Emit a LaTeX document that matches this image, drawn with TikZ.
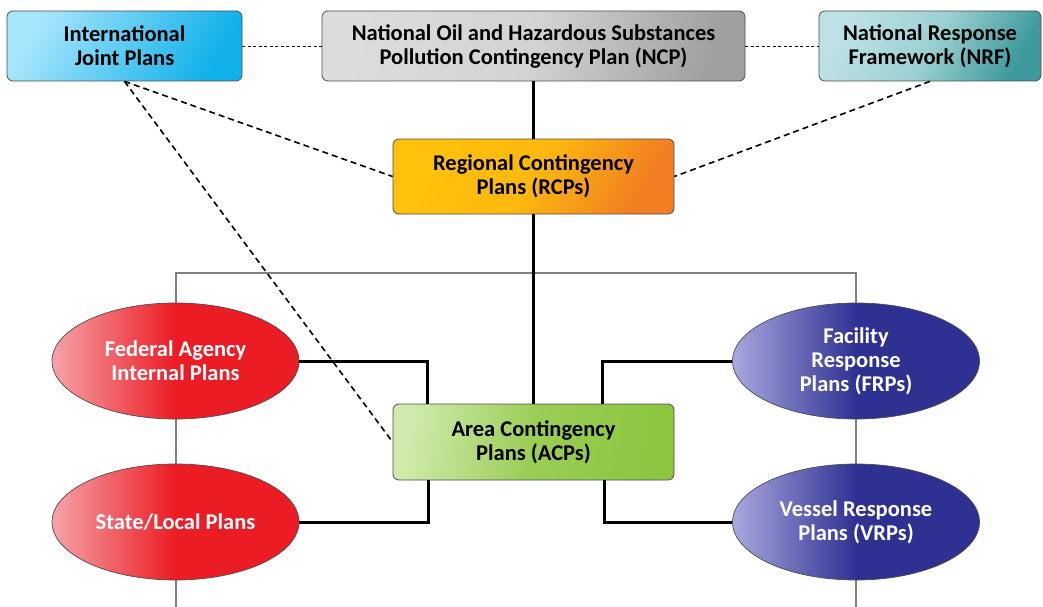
\documentclass[tikz,border=0pt]{standalone}
\usepackage{fontspec}
\setmainfont{Carlito}
\usetikzlibrary{positioning,shapes.geometric}
\definecolor{PlanEdge}{HTML}{4D4D4D}
\definecolor{PlanFrame}{HTML}{808080}
\definecolor{CyanLight}{HTML}{A8E6FB}
\definecolor{CyanDark}{HTML}{10B0EA}
\definecolor{GrayLight}{HTML}{DCDCDC}
\definecolor{GrayDark}{HTML}{A0A0A0}
\definecolor{TealLight}{HTML}{BCE2E5}
\definecolor{TealDark}{HTML}{3E9A9C}
\definecolor{AmberLight}{HTML}{FFC20A}
\definecolor{AmberDark}{HTML}{F17E22}
\definecolor{LimeLight}{HTML}{D0EAAD}
\definecolor{LimeDark}{HTML}{8CC63F}
\definecolor{RedLight}{HTML}{F6A3A9}
\definecolor{RedDark}{HTML}{EC1C24}
\definecolor{IndigoLight}{HTML}{A9A8E0}
\definecolor{IndigoDark}{HTML}{2E3192}
\tikzset{
  planbox/.style={draw=PlanEdge,line width=0.8pt,rounded corners=6pt,
                  minimum width=235pt,minimum height=70pt,inner sep=0pt,
                  align=center,text=black,font=\fontsize{22.5}{24}\selectfont\bfseries},
  planboxcyan/.style={planbox,left color=CyanLight,right color=CyanDark,shading angle=60},
  planboxgray/.style={planbox,left color=GrayLight,right color=GrayDark,middle color=GrayLight!85!GrayDark,shading angle=75,minimum width=423pt},
  planboxteal/.style={planbox,left color=TealLight,right color=TealDark,middle color=TealLight!75!TealDark,shading angle=60,minimum width=222pt},
  planboxamber/.style={planbox,left color=AmberLight,right color=AmberDark,middle color=AmberLight!85!AmberDark,shading angle=60,minimum width=281pt,minimum height=75pt},
  planboxlime/.style={planbox,left color=LimeLight,right color=LimeDark,middle color=LimeDark!80!LimeLight,shading angle=80,minimum width=281pt,minimum height=76pt},
  planoval/.style={ellipse,draw=PlanEdge,line width=0.7pt,minimum width=247pt,
                   minimum height=116pt,inner sep=0pt,align=center,text=white,
                   font=\fontsize{22.5}{24}\selectfont\bfseries},
  planovalred/.style={planoval,left color=RedLight,right color=RedDark,middle color=RedDark},
  planovalindigo/.style={planoval,left color=IndigoLight,right color=IndigoDark,middle color=IndigoDark},
  tie/.style={black,line width=3pt},
  peer/.style={black,line width=0.8pt,dash pattern=on 3pt off 2.5pt},
  liaison/.style={black,line width=1.6pt,dash pattern=on 6pt off 4pt},
  frame/.style={PlanFrame,line width=1.1pt},
}
\begin{document}
\begin{tikzpicture}[x=1pt,y=-1pt]
    \useasboundingbox[fill=white] (0,0) rectangle (1043,607);

    % thin outer frame behind the side plans
    \coordinate (frameBL) at (176,607);
    \coordinate (frameTL) at (176,273);
    \coordinate (frameBR) at (856,607);
    \draw[frame] (frameBL) -- (frameTL) -| (frameBR);

    % top row
    \node[planboxcyan] (ijp) at (124.5,46) {International\\Joint Plans};
    \node[planboxgray] (ncp) at (533.5,46)
      {National Oil and Hazardous Substances\\Pollution Contingency Plan (NCP)};
    \node[planboxteal] (nrf) at (930,46) {National Response\\Framework (NRF)};

    % regional and area plans
    \node[planboxamber] (rcp) at (533.5,176.5) {Regional Contingency\\Plans (RCPs)};
    \node[planboxlime] (acp) at (533.5,442) {Area Contingency\\Plans (ACPs)};

    % side plans
    \node[planovalred] (fed) at (175.5,361) {Federal Agency\\Internal Plans};
    \node[planovalred] (state) at (175.5,522) {State/Local Plans};
    \node[planovalindigo] (frp) at (856,361) {Facility\\Response\\Plans (FRPs)};
    \node[planovalindigo] (vrp) at (856,522) {Vessel Response\\Plans (VRPs)};

    % peer links
    \draw[peer] (ijp) -- (ncp);
    \draw[peer] (ncp) -- (nrf);
    \draw[liaison] (ijp.south) -- (rcp.west);
    \draw[liaison] (ijp.south) -- (acp.west);
    \draw[liaison] (nrf.south) -- (rcp.east);

    % chain of plans
    \draw[tie] (ncp) -- (rcp);
    \draw[tie] (rcp) -- (acp);
    \draw[tie] (fed.east) -| ([xshift=35pt]acp.north west);
    \draw[tie] (state.east) -| ([xshift=36pt]acp.south west);
    \draw[tie] (frp.west) -| ([xshift=-72pt]acp.north east);
    \draw[tie] (vrp.west) -| ([xshift=-70pt]acp.south east);
  \end{tikzpicture}
\end{document}
